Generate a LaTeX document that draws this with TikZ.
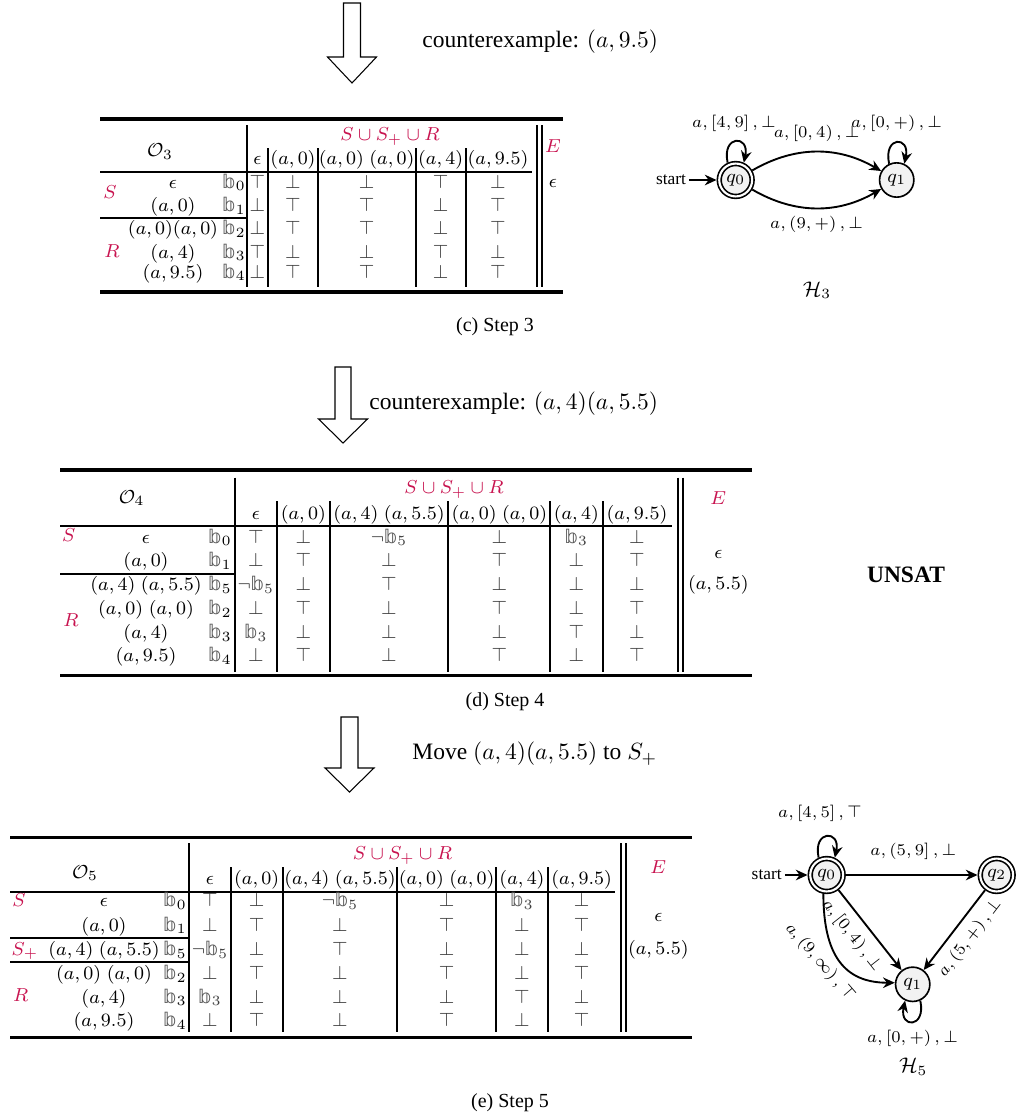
\documentclass[tikz,border=0pt]{standalone}
\usepackage{amsmath}
\usepackage[no-math]{fontspec}
\setmainfont{Liberation Serif}
\newfontfamily\dvs{DejaVu Sans}
\usetikzlibrary{arrows.meta}
\definecolor{crim}{RGB}{200,20,80}
\newcommand\bbb[1]{\text{\dvs\color{black!65}𝕓}_{#1}}
\newcommand\tT{\top}
\newcommand\tF{\bot}
\newcommand\tN{\neg\bbb{5}}
\newcommand\tB{\bbb{3}}
\newcommand\trow[4]{%
  \foreach \vv [count=\ii from 0] in {#4}{%
    \pgfmathsetmacro\xx{#2[\ii]}%
    \node[val] (#1-\ii) at (\xx,#3) {$\vv$};}}
\tikzset{
  cell/.style={font=\footnotesize, inner sep=0pt, text height=6pt, text depth=2pt},
  val/.style={cell, text=black!75},
  clab/.style={cell, text=crim},
  txt/.style={font=\normalsize, inner sep=0pt},
  capt/.style={font=\fontsize{8.5}{10}\selectfont, inner sep=0pt},
  toprl/.style={line width=1.3pt},
  hrl/.style={line width=0.85pt},
  vrl/.style={line width=1pt},
  blockarrow/.style={draw, line width=0.45pt, line join=miter},
  stt/.style={circle, draw, line width=0.7pt, fill=gray!10, minimum size=14.6pt, inner sep=0pt, font=\footnotesize},
  acc/.style={double, double distance=0.9pt, minimum size=14pt, outer sep=1.15pt},
  tr/.style={-{Stealth[length=5pt,width=4.5pt]}, line width=0.8pt},
  elab/.style={font=\fontsize{7.4}{8.8}\selectfont, inner sep=1.2pt},
}
\begin{document}
\begin{tikzpicture}[x=0.4255pt,y=-0.4255pt]
\useasboundingbox (0,0) rectangle (1019,1118);
% ---------- block arrows and transitions text
\draw[blockarrow] (343.5,3) -- (360.5,3) -- (360.5,57) -- (376.5,57) -- (352,83) -- (327.5,57) -- (343.5,57) -- cycle;
\node[txt, anchor=west] (ce1) at (422,42) {counterexample: $(a,9.5)$};
\draw[blockarrow] (335,367) -- (351,367) -- (351,419) -- (367.5,419) -- (343,443) -- (318.5,419) -- (335,419) -- cycle;
\node[txt, anchor=west] (ce2) at (369,404) {counterexample: $(a,4)(a,5.5)$};
\draw[blockarrow] (341,717) -- (358,717) -- (358,768) -- (374,768) -- (349.5,792) -- (325,768) -- (341,768) -- cycle;
\node[txt, anchor=west] (mv) at (412,754) {Move $(a,4)(a,5.5)$ to $S_+$};

% ---------- Table (c)
\def\colsC{{257.5,293,366.7,440.7,498}}
\draw[toprl] (100,119) -- (563,119);
\draw[toprl] (100,292) -- (563,292);
\draw[hrl] (100,172) -- (532,172);
\draw[hrl] (100,218) -- (247,218);
\draw[vrl] (247,125) -- (247,287);
\foreach \x in {268.3,317.7,415.7,465.7} \draw[vrl] (\x,148) -- (\x,287);
\draw[vrl] (537,125) -- (537,287);
\draw[vrl] (542,125) -- (542,287);
\node[cell] (cO) at (160,152) {$\mathcal{O}_3$};
\node[clab] (cH) at (390,136) {$S\cup S_+\cup R$};
\node[clab] (cE) at (553,148) {$E$};
\node[cell] (cE1) at (553,183) {$\epsilon$};
\node[clab] (cS) at (110,194) {$S$};
\node[clab] (cR) at (112,253) {$R$};
\foreach \t [count=\i from 0] in {{\epsilon},{(a,0)},{(a,0)\;(a,0)},{(a,4)},{(a,9.5)}}{%
  \pgfmathsetmacro\xx{\colsC[\i]}%
  \node[cell] (ch-\i) at (\xx,160) {$\t$};}
\foreach \t/\b/\y [count=\i] in {{\epsilon}/0/183.3,{(a,0)}/1/206.7,{(a,0)(a,0)}/2/230,{(a,4)}/3/253.3,{(a,9.5)}/4/273.3}{%
  \node[cell] (cr\i) at (173,\y) {$\t$};
  \node[cell] (cb\i) at (234,\y) {$\bbb{\b}$};}
\trow{c1}{\colsC}{183.3}{\tT,\tF,\tF,\tT,\tF}
\trow{c2}{\colsC}{206.7}{\tF,\tT,\tT,\tF,\tT}
\trow{c3}{\colsC}{230}{\tF,\tT,\tT,\tF,\tT}
\trow{c4}{\colsC}{253.3}{\tT,\tF,\tF,\tT,\tF}
\trow{c5}{\colsC}{273.3}{\tF,\tT,\tT,\tF,\tT}
\node[capt] (capc) at (495,327) {(c) Step 3};

% ---------- Automaton H3
\node[stt,acc] (a0) at (735.7,180) {$q_0$};
\node[stt] (a1) at (896.7,180) {$q_1$};
\node[elab] (ast) at (671,180) {start};
\draw[tr] (ast) -- (a0);
\draw[tr] (a0.115) .. controls +(-6,-28) and +(6,-28) .. (a0.65);
\draw[tr] (a1.115) .. controls +(-6,-28) and +(6,-28) .. (a1.65);
\draw[tr] (a0.30) .. controls +(43,-25) and +(-43,-25) .. (a1.150);
\draw[tr] (a0.-30) .. controls +(43,25) and +(-43,25) .. (a1.-150);
\node[elab] (al0) at (734,123) {$a,[4,9]\,,\bot$};
\node[elab] (al1) at (896.7,123) {$a,[0,+)\,,\bot$};
\node[elab] (al2) at (816.7,133.3) {$a,[0,4)\,,\bot$};
\node[elab] (al3) at (816.7,224) {$a,(9,+)\,,\bot$};
\node[font=\small] (H3) at (817,290) {$\mathcal{H}_3$};

% ---------- Table (d)
\def\colsD{{255.8,303.3,389,499.3,576.3,637}}
\draw[toprl] (60,470) -- (751.7,470);
\draw[toprl] (60,675.7) -- (751.7,675.7);
\draw[hrl] (60,526) -- (671.7,526);
\draw[hrl] (60,574.3) -- (235,574.3);
\draw[vrl] (235,477.7) -- (235,671.7);
\foreach \x in {276.7,330,448.3,550,602.7} \draw[vrl] (\x,501) -- (\x,671.7);
\draw[vrl] (678.3,477.7) -- (678.3,671.7);
\draw[vrl] (682.7,477.7) -- (682.7,671.7);
\node[cell] (dO) at (131.7,498.3) {$\mathcal{O}_4$};
\node[clab] (dH) at (454,489) {$S\cup S_+\cup R$};
\node[clab] (dE) at (718.3,500) {$E$};
\node[cell] (dE1) at (718.3,553.3) {$\epsilon$};
\node[cell] (dE2) at (718.3,585) {$(a,5.5)$};
\node[clab] (dS) at (68.7,536.7) {$S$};
\node[clab] (dR) at (71,621.7) {$R$};
\foreach \t [count=\i from 0] in {{\epsilon},{(a,0)},{(a,4)\;(a,5.5)},{(a,0)\;(a,0)},{(a,4)},{(a,9.5)}}{%
  \pgfmathsetmacro\xx{\colsD[\i]}%
  \node[cell] (dh-\i) at (\xx,515) {$\t$};}
\foreach \t/\b/\y [count=\i] in {{\epsilon}/0/538.5,{(a,0)}/1/562,{(a,4)\;(a,5.5)}/5/586,{(a,0)\;(a,0)}/2/610,{(a,4)}/3/634,{(a,9.5)}/4/657}{%
  \node[cell] (dr\i) at (146,\y) {$\t$};
  \node[cell] (db\i) at (220,\y) {$\bbb{\b}$};}
\trow{d1}{\colsD}{538.5}{\tT,\tF,\tN,\tF,\tB,\tF}
\trow{d2}{\colsD}{562}{\tF,\tT,\tF,\tT,\tF,\tT}
\trow{d3}{\colsD}{586}{\tN,\tF,\tT,\tF,\tF,\tF}
\trow{d4}{\colsD}{610}{\tF,\tT,\tF,\tT,\tF,\tT}
\trow{d5}{\colsD}{634}{\tB,\tF,\tF,\tF,\tT,\tF}
\trow{d6}{\colsD}{657}{\tF,\tT,\tF,\tT,\tF,\tT}
\node[font=\bfseries, inner sep=0pt] (uns) at (906,575) {UNSAT};
\node[capt] (capd) at (505,702) {(d) Step 4};

% ---------- Table (e)
\def\colsE{{210,256.7,340,446.7,522,581.7}}
\draw[toprl] (10,837.3) -- (691.7,837.3);
\draw[toprl] (10,1037.3) -- (691.7,1037.3);
\draw[hrl] (10,891.7) -- (615,891.7);
\draw[hrl] (10,938.3) -- (189,938.3);
\draw[hrl] (10,961.7) -- (189,961.7);
\draw[vrl] (189,843) -- (189,1031.7);
\foreach \x in {230.7,282.7,397.3,496,548.3} \draw[vrl] (\x,867.3) -- (\x,1031.7);
\draw[vrl] (621,843) -- (621,1031.7);
\draw[vrl] (625.7,843) -- (625.7,1031.7);
\node[cell] (eO) at (85,873.3) {$\mathcal{O}_5$};
\node[clab] (eH) at (402.5,855) {$S\cup S_+\cup R$};
\node[clab] (eE) at (658.3,868.3) {$E$};
\node[cell] (eE1) at (658.3,916.7) {$\epsilon$};
\node[cell] (eE2) at (658.3,950) {$(a,5.5)$};
\node[clab] (eS) at (19,901.7) {$S$};
\node[clab] (eSp) at (25,950.7) {$S_+$};
\node[clab] (eR) at (20.7,996.7) {$R$};
\foreach \t [count=\i from 0] in {{\epsilon},{(a,0)},{(a,4)\;(a,5.5)},{(a,0)\;(a,0)},{(a,4)},{(a,9.5)}}{%
  \pgfmathsetmacro\xx{\colsE[\i]}%
  \node[cell] (eh-\i) at (\xx,880) {$\t$};}
\foreach \t/\b/\y [count=\i] in {{\epsilon}/0/902,{(a,0)}/1/926.5,{(a,4)\;(a,5.5)}/5/950.7,{(a,0)\;(a,0)}/2/975,{(a,4)}/3/998.3,{(a,9.5)}/4/1021.7}{%
  \node[cell] (er\i) at (104,\y) {$\t$};
  \node[cell] (eb\i) at (175,\y) {$\bbb{\b}$};}
\trow{e1}{\colsE}{902}{\tT,\tF,\tN,\tF,\tB,\tF}
\trow{e2}{\colsE}{926.5}{\tF,\tT,\tF,\tT,\tF,\tT}
\trow{e3}{\colsE}{950.7}{\tN,\tF,\tT,\tF,\tF,\tF}
\trow{e4}{\colsE}{975}{\tF,\tT,\tF,\tT,\tF,\tT}
\trow{e5}{\colsE}{998.3}{\tB,\tF,\tF,\tF,\tT,\tF}
\trow{e6}{\colsE}{1021.7}{\tF,\tT,\tF,\tT,\tF,\tT}
\node[capt] (cape) at (510,1103) {(e) Step 5};

% ---------- Automaton H5
\node[stt,acc] (b0) at (826.7,875) {$q_0$};
\node[stt,acc] (b2) at (996.7,875) {$q_2$};
\node[stt] (b1) at (912.7,984.3) {$q_1$};
\node[elab] (bst) at (766.7,875) {start};
\draw[tr] (bst) -- (b0);
\draw[tr] (b0.115) .. controls +(-6,-28) and +(6,-28) .. (b0.65);
\draw[tr] (b1.-65) .. controls +(6,28) and +(-6,28) .. (b1.-115);
\draw[tr] (b0) -- (b2);
\draw[tr] (b0) -- (b1);
\draw[tr] (b2) -- (b1);
\draw[tr] (b0.-100) .. controls +(0,62) and +(-50,0) .. (b1.175);
\node[elab] (bl0) at (820,813.3) {$a,[4,5]\,,\top$};
\node[elab] (bl1) at (913.3,851.7) {$a,(5,9]\,,\bot$};
\node[elab, rotate=-51.8] (bl2) at (852,935.5) {$a,[0,4)\,,\bot$};
\node[elab, rotate=-49] (bl3) at (820,962) {$a,(9,\infty)\,,\top$};
\node[elab, rotate=52.5] (bl4) at (970,938) {$a,(5,+)\,,\bot$};
\node[elab] (bl5) at (912.5,1038.3) {$a,[0,+)\,,\bot$};
\node[font=\small] (H5) at (913.3,1066.7) {$\mathcal{H}_5$};
\end{tikzpicture}
\end{document}
